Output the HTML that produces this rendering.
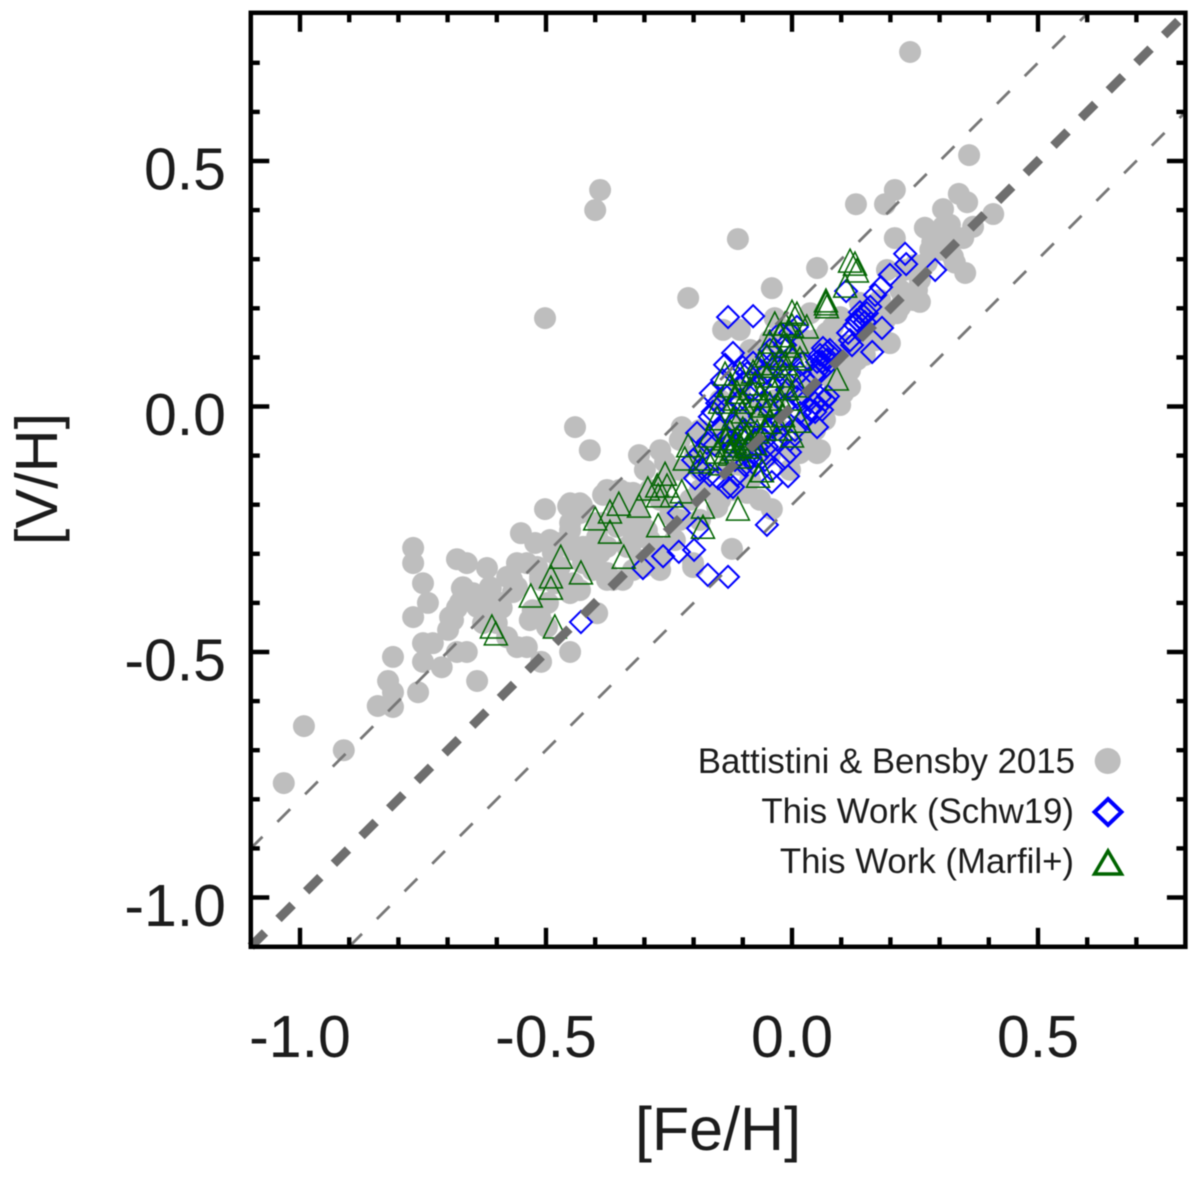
<!DOCTYPE html>
<html>
<head>
<meta charset="utf-8">
<title>[V/H] vs [Fe/H]</title>
<style>
html,body{margin:0;padding:0;background:#fff;width:1200px;height:1183px;overflow:hidden}
svg{display:block;filter:blur(.5px)}
text{font-family:"Liberation Sans",Arial,sans-serif;fill:#1c1c1c}
</style>
</head>
<body>
<svg id="chart" width="1200" height="1183" viewBox="0 0 1200 1183" xmlns="http://www.w3.org/2000/svg">
  <g id="marks-gray"></g>
  <g id="marks-blue"></g>
  <g id="marks-green"></g>
  <g id="ref-lines"></g>
  <g id="axes"></g>
  <rect x="250.8" y="12.8" width="934.6" height="934" fill="none" stroke="#000" stroke-width="4.5"></rect>
  <g id="tick-labels" font-size="59"></g>
  <text x="718" y="1150" font-size="61" text-anchor="middle">[Fe/H]</text>
  <text transform="translate(57,479) rotate(-90)" font-size="59.5" text-anchor="middle">[V/H]</text>
  <g font-size="34.8" text-anchor="end">
    <text x="1075" y="773">Battistini &amp; Bensby 2015</text>
    <circle cx="1107.7" cy="761" r="13" fill="#bebebe"></circle>
    <text x="1074" y="823">This Work (Schw19)</text>
    <path d="M1108 799 L1121.5 812 L1108 825 L1094.5 812 Z" fill="none" stroke="#0000ff" stroke-width="4"></path>
    <text x="1074" y="873">This Work (Marfil+)</text>
    <path d="M1108 851 L1121.5 874 L1094.5 874 Z" fill="none" stroke="#006400" stroke-width="3.5"></path>
  </g>
</svg>
<script>
const xMajorTicks = [-1.0, -0.5, 0.0, 0.5];
const yMajorTicks = [0.5, 0.0, -0.5, -1.0];
const xMinorTicks = [-0.9, -0.8, -0.7, -0.6, -0.4, -0.3, -0.2, -0.1, 0.1, 0.2, 0.3, 0.4, 0.6, 0.7];
const yMinorTicks = [0.7, 0.6, 0.4, 0.3, 0.2, 0.1, -0.1, -0.2, -0.3, -0.4, -0.6, -0.7, -0.8, -0.9];
const xTickLabels = ["-1.0", "-0.5", "0.0", "0.5"];
const yTickLabels = ["0.5", "0.0", "-0.5", "-1.0"];
const refOffsets = [0, 0.2, -0.2];
const axisRange = [-1.1, 0.8];

const battistini = [
[-0.992,-0.651],[-0.911,-0.700],[-1.033,-0.767],[-0.770,-0.288],[-0.770,-0.319],[-0.750,-0.360],[-0.740,-0.400],[-0.770,-0.429],
[-0.811,-0.510],[-0.821,-0.559],[-0.811,-0.582],[-0.842,-0.610],[-0.811,-0.612],[-0.760,-0.582],[-0.640,-0.559],[-0.451,-0.500],
[-0.510,-0.520],[-0.750,-0.482],[-0.730,-0.482],[-0.750,-0.520],[-0.712,-0.531],[-0.681,-0.500],[-0.661,-0.500],[-0.699,-0.455],
[-0.689,-0.435],[-0.681,-0.410],[-0.671,-0.370],[-0.669,-0.390],[-0.649,-0.380],[-0.681,-0.311],[-0.661,-0.319],[-0.620,-0.329],
[-0.612,-0.370],[-0.620,-0.388],[-0.618,-0.410],[-0.590,-0.410],[-0.559,-0.319],[-0.539,-0.319],[-0.569,-0.353],[-0.567,-0.378],
[-0.579,-0.470],[-0.559,-0.490],[-0.539,-0.490],[-0.529,-0.429],[-0.498,-0.449],[-0.496,-0.400],[-0.451,-0.374],[-0.431,-0.374],
[-0.482,-0.360],[-0.396,-0.421],[-0.502,-0.209],[-0.551,-0.258],[-0.522,-0.278],[-0.478,-0.278],[-0.455,-0.203],[-0.427,-0.201],
[-0.451,-0.237],[-0.445,-0.286],[-0.384,-0.180],[-0.350,-0.170],[-0.425,-0.319],[-0.405,-0.333],[-0.376,-0.353],[-0.344,-0.353],
[-0.335,-0.286],[-0.376,-0.286],[-0.323,-0.252],[-0.417,-0.286],[-0.472,-0.327],[-0.512,-0.347],[-0.396,-0.237],[-0.356,-0.245],
[-0.315,-0.217],[-0.329,-0.190],[-0.390,0.441],[-0.400,0.400],[-0.502,0.180],[-0.441,-0.042],[-0.411,-0.089],[-0.110,0.341],
[-0.211,0.221],[-0.041,0.241],[0.051,0.282],[0.240,0.722],[0.360,0.512],[-0.140,0.156],[-0.106,0.156],[0.037,0.190],
[-0.311,-0.099],[-0.224,-0.042],[-0.041,-0.209],[-0.122,-0.290],[0.051,-0.095],[0.016,-0.095],[0.118,0.040],[0.063,0.007],
[0.071,0.150],[0.144,0.190],[0.199,0.129],[0.246,0.217],[0.193,0.278],[0.281,0.319],[-0.268,-0.089],[-0.091,-0.176],
[-0.146,-0.190],[-0.201,-0.319],[0.130,0.412],[0.189,0.412],[0.209,0.441],[0.209,0.343],[0.339,0.433],[0.307,0.402],
[0.356,0.416],[0.409,0.392],[0.368,0.366],[0.348,0.343],[0.270,0.364],[0.285,0.335],[0.331,0.293],[0.352,0.272],
[0.260,0.213],[0.254,0.237],[0.220,0.203],[0.213,0.190],[0.179,0.156],[0.138,0.211],[0.132,0.095],[0.083,0.162],
[0.098,0.182],[0.274,0.293],[0.307,0.366],[0.327,0.305],[0.260,0.258],[0.226,0.223],[0.295,0.325],[0.315,0.353],
[-0.289,-0.170],[-0.258,-0.150],[-0.228,-0.129],[-0.197,-0.099],[-0.167,-0.078],[-0.136,-0.048],[-0.096,-0.027],[-0.065,-0.007],
[-0.035,0.013],[-0.004,0.034],[0.026,0.054],[0.047,0.074],[0.077,0.105],[0.108,0.125],[0.138,0.135],[-0.248,-0.221],
[-0.207,-0.190],[-0.177,-0.170],[-0.268,-0.190],[-0.309,-0.231],[-0.289,-0.272],[-0.268,-0.313],[-0.309,-0.313],[-0.238,-0.272],
[-0.187,-0.231],[-0.136,-0.129],[-0.106,-0.119],[-0.065,-0.068],[-0.024,-0.048],[0.016,-0.038],[0.047,-0.048],[-0.096,-0.089],
[-0.045,-0.099],[-0.004,-0.089],[0.037,0.013],[0.067,-0.027],[0.087,0.044],[-0.146,0.013],[-0.106,0.034],[-0.065,0.074],
[-0.024,0.095],[-0.045,0.135],[-0.004,0.156],[0.026,0.135],[-0.085,0.115],[0.098,0.060],[0.104,0.027],[0.057,-0.089],
[-0.451,-0.197],[-0.431,-0.197],[-0.669,-0.368],[-0.614,-0.368],[-0.579,-0.347],[-0.594,-0.400],[-0.559,-0.368],[-0.518,-0.327],
[-0.486,-0.298],[-0.492,-0.272],[-0.451,-0.252],[-0.445,-0.292],[-0.431,-0.217],[-0.445,-0.360],[-0.451,-0.380],[-0.512,-0.353],
[-0.527,-0.415],[-0.512,-0.429],[-0.533,-0.435],[-0.396,-0.266],[-0.384,-0.237],[-0.390,-0.298],[-0.376,-0.339],[-0.364,-0.353],
[-0.405,-0.327],[-0.425,-0.286],[-0.323,-0.333],[-0.329,-0.286],[-0.309,-0.266],[-0.335,-0.237],[-0.376,-0.170],[-0.335,-0.176],
[-0.315,-0.184],[-0.356,-0.205],[-0.675,-0.400],[-0.695,-0.429],[-0.640,-0.408],[-0.628,-0.400],[-0.628,-0.441],[-0.600,-0.441],
[-0.323,-0.176],[-0.323,-0.225],[-0.295,-0.252],[-0.323,-0.272],[-0.274,-0.286],[-0.303,-0.327],[-0.268,-0.333],[-0.201,-0.327],
[-0.228,-0.231],[-0.152,-0.205],[-0.120,-0.170],[-0.065,-0.190],[-0.187,-0.170],[-0.228,-0.068],[-0.258,-0.113],[-0.299,-0.129],
[-0.187,-0.048],[-0.187,-0.129],[-0.126,-0.109],[-0.085,-0.150],[-0.004,-0.129],[0.026,-0.068],[0.098,0.003],[0.118,0.074],
[0.148,0.105],[0.169,0.135],[0.159,0.176],[0.189,0.176],[0.220,0.237],[0.179,0.217],[0.250,0.288],[0.228,0.278],
[0.301,0.319],[0.321,0.370],[0.016,0.115],[0.047,0.135],[0.087,0.095],[0.057,0.064],[-0.035,0.180]
];

const schw19 = [
[-0.130,0.182],[-0.079,0.184],[0.110,0.235],[0.230,0.311],[0.232,0.290],[0.291,0.278],[0.199,0.268],[0.181,0.243],
[0.169,0.227],[0.183,0.160],[0.163,0.111],[0.122,0.125],[0.132,0.176],[0.144,0.186],[0.138,0.180],[0.152,0.190],
[0.159,0.203],[0.114,0.150],[0.077,0.115],[0.067,0.105],[0.061,0.091],[0.053,0.074],[0.071,0.095],[0.051,-0.042],
[0.057,0.019],[0.067,0.013],[0.037,-0.007],[0.047,0.007],[-0.120,0.109],[-0.136,0.085],[-0.142,0.054],[-0.165,0.027],
[-0.161,-0.011],[-0.193,-0.054],[-0.201,-0.109],[-0.197,-0.146],[-0.100,0.080],[-0.079,0.089],[-0.051,0.101],[-0.024,0.150],
[-0.004,0.150],[0.010,0.162],[-0.120,-0.164],[-0.130,-0.164],[-0.112,-0.140],[-0.150,-0.146],[-0.041,-0.129],[-0.041,-0.154],
[-0.008,-0.142],[-0.004,-0.093],[-0.014,-0.103],[-0.230,-0.217],[-0.191,-0.248],[-0.051,-0.241],[-0.199,-0.292],[-0.230,-0.296],
[-0.262,-0.305],[-0.303,-0.329],[-0.171,-0.343],[-0.130,-0.347],[-0.429,-0.439],[-0.085,-0.103],[-0.071,-0.103],[-0.100,-0.089],
[-0.120,-0.082],[-0.132,-0.062],[-0.106,-0.062],[-0.039,-0.042],[-0.051,-0.048],[-0.024,-0.027],[-0.065,-0.021],[0.016,-0.013],
[0.010,0.019],[-0.010,0.034],[-0.039,0.040],[-0.051,0.068],[-0.024,0.074],[0.016,0.068],[-0.079,0.034],[-0.100,0.048],
[-0.091,0.068],[-0.120,0.068],[-0.039,0.089],[-0.004,0.101],[0.022,0.089],[-0.146,-0.048],[-0.173,-0.074],[-0.187,-0.095],
[-0.167,-0.021],[-0.152,0.007],[0.030,-0.021],[0.022,0.007],[-0.071,-0.082],[-0.051,-0.082],[-0.030,-0.068],
[0.063,0.119],[0.073,0.111],[0.057,0.105],[0.051,0.091],[0.069,0.082],[0.057,0.070],[0.045,0.064],[0.138,0.192],
[0.128,0.166],[0.148,0.172],[0.061,-0.007],[0.047,-0.011],[0.073,0.021],[0.118,0.135],
[-0.116,-0.038],[-0.096,-0.048],[-0.075,-0.068],[-0.055,-0.068],[-0.045,-0.007],[-0.014,0.003],[-0.085,0.003],[-0.065,0.044],
[-0.106,0.013],[-0.136,-0.007],[-0.136,0.023],[-0.045,0.115],[-0.014,0.125],[-0.004,0.064],[0.037,0.044],[0.006,-0.048],
[-0.004,-0.068],[-0.116,-0.109],[-0.096,-0.119],[-0.075,-0.119],[-0.055,-0.109],[-0.157,-0.078],[-0.187,-0.129],[-0.167,-0.140]
];

const marfil = [
[0.128,0.288],[0.118,0.294],[0.132,0.274],[0.108,0.243],[0.069,0.207],[0.071,0.201],[0.069,0.213],[0,0.190],
[0.010,0.186],[0.030,0.160],[0,0.162],[-0.024,0.142],[0.010,0.129],[-0.010,0.121],[-0.045,0.129],[0.002,0.101],
[-0.024,0.095],[-0.051,0.101],[0.091,0.054],[-0.110,-0.211],[-0.181,-0.207],[-0.181,-0.248],[0,-0.062],[0.016,-0.032],
[-0.069,-0.144],[-0.061,-0.133],[-0.311,-0.205],[-0.352,-0.201],[-0.370,-0.217],[-0.272,-0.245],[-0.370,-0.258],[-0.342,-0.309],
[-0.293,-0.170],[-0.272,-0.184],[-0.258,-0.140],[-0.254,-0.164],[-0.274,-0.164],[-0.244,-0.184],[-0.224,-0.176],[-0.211,-0.082],
[-0.218,-0.109],[-0.187,-0.115],[-0.173,-0.109],[-0.152,-0.095],[-0.120,-0.027],[-0.100,-0.013],[-0.065,0.019],[-0.039,0.034],
[-0.085,0.034],[-0.112,0.027],[-0.126,0.040],[-0.146,0.007],[-0.152,-0.027],[-0.167,-0.062],[-0.112,-0.068],[-0.091,-0.062],
[-0.071,-0.054],[-0.045,-0.034],[-0.018,-0.021],[-0.004,0.013],[0.010,0.040],[-0.018,0.060],[-0.051,0.060],[-0.079,0.068],
[-0.039,0.080],[-0.100,-0.048],[-0.126,-0.054],[-0.106,-0.082],[-0.091,-0.085],[-0.120,-0.089],[-0.132,-0.082],[-0.024,-0.048],
[-0.059,-0.001],[-0.100,0.007],[-0.071,-0.021],[-0.030,-0.001],[-0.010,0.034],[-0.470,-0.309],[-0.490,-0.349],[-0.490,-0.372],
[-0.531,-0.388],[-0.429,-0.341],[-0.400,-0.231],[-0.482,-0.451],[-0.610,-0.451],[-0.602,-0.465],
[-0.136,-0.068],[-0.116,-0.074],[-0.096,-0.068],[-0.075,-0.078],[-0.126,-0.099],[-0.106,-0.105],[-0.085,-0.078],[-0.055,-0.048],
[-0.045,0.003],[-0.075,0.044],[-0.106,0.064],[-0.065,0.085],[-0.014,0.085],[-0.024,0.013],[0.016,0.095],[-0.035,0.166],
[-0.014,0.166],[-0.146,-0.119],[-0.116,0.013],[-0.136,0.064]
];

const NS = 'http://www.w3.org/2000/svg';
function xScale(v) { return 792 + v * 492; }
function yScale(v) { return 406.5 - v * 491; }

const grayG = document.getElementById('marks-gray');
battistini.forEach(function (d) {
  const c = document.createElementNS(NS, 'circle');
  
  
  c.setAttribute('cx', xScale(d[0]));
  c.setAttribute('cy', yScale(d[1]));
  c.setAttribute('r', 11);
  c.setAttribute('fill', '#bebebe');
  grayG.appendChild(c);
});

const blueG = document.getElementById('marks-blue');
schw19.forEach(function (d) {
  const x = xScale(d[0]), y = yScale(d[1]), s = 11;
  const p = document.createElementNS(NS, 'path');
  
  
  p.setAttribute('d', 'M' + x + ' ' + (y - s) + 'L' + (x + s) + ' ' + y + 'L' + x + ' ' + (y + s) + 'L' + (x - s) + ' ' + y + 'Z');
  p.setAttribute('fill', 'none');
  p.setAttribute('stroke', '#0000ff');
  p.setAttribute('stroke-width', '2');
  blueG.appendChild(p);
});

const greenG = document.getElementById('marks-green');
marfil.forEach(function (d) {
  const x = xScale(d[0]), y = yScale(d[1]);
  const p = document.createElementNS(NS, 'path');
  
  
  p.setAttribute('d', 'M' + x + ' ' + (y - 13) + 'L' + (x + 11.5) + ' ' + (y + 10) + 'L' + (x - 11.5) + ' ' + (y + 10) + 'Z');
  p.setAttribute('fill', 'none');
  p.setAttribute('stroke', '#006400');
  p.setAttribute('stroke-width', '1.5');
  greenG.appendChild(p);
});

const refG = document.getElementById('ref-lines');
refOffsets.forEach(function (off) {
  const x0 = Math.max(axisRange[0], axisRange[0] - off);
  const x1 = Math.min(axisRange[1], axisRange[1] - off);
  const l = document.createElementNS(NS, 'line');
  
  
  l.setAttribute('x1', xScale(x0));
  l.setAttribute('y1', yScale(x0 + off));
  l.setAttribute('x2', xScale(x1));
  l.setAttribute('y2', yScale(x1 + off));
  l.setAttribute('stroke', off === 0 ? '#6e6e6e' : '#777777');
  l.setAttribute('stroke-width', off === 0 ? 9 : 2.8);
  l.setAttribute('stroke-dasharray', off === 0 ? '20 19.1' : '18 21.1');
  l.setAttribute('stroke-dashoffset', off > 0 ? 1.5 : 0);
  refG.appendChild(l);
});

const axesG = document.getElementById('axes');
function tick(x1, y1, x2, y2) {
  const t = document.createElementNS(NS, 'line');
  
  
  t.setAttribute('x1', x1);
  t.setAttribute('y1', y1);
  t.setAttribute('x2', x2);
  t.setAttribute('y2', y2);
  t.setAttribute('stroke', '#000');
  t.setAttribute('stroke-width', 4.4);
  axesG.appendChild(t);
}
function xTicks(list, len) {
  list.forEach(function (v) {
    tick(xScale(v), 12.8, xScale(v), 12.8 + len);
    tick(xScale(v), 946.8, xScale(v), 946.8 - len);
  });
}
function yTicks(list, len) {
  list.forEach(function (v) {
    tick(250.8, yScale(v), 250.8 + len, yScale(v));
    tick(1185.4, yScale(v), 1185.4 - len, yScale(v));
  });
}
xTicks(xMajorTicks, 19);
xTicks(xMinorTicks, 9.5);
yTicks(yMajorTicks, 18.5);
yTicks(yMinorTicks, 9);

const labelG = document.getElementById('tick-labels');
xMajorTicks.forEach(function (v, i) {
  const t = document.createElementNS(NS, 'text');
  
  
  t.setAttribute('x', xScale(v));
  t.setAttribute('y', 1057);
  t.setAttribute('text-anchor', 'middle');
  t.textContent = xTickLabels[i];
  labelG.appendChild(t);
});
yMajorTicks.forEach(function (v, i) {
  const t = document.createElementNS(NS, 'text');
  
  
  t.setAttribute('x', 226);
  t.setAttribute('y', yScale(v) + 28.5);
  t.setAttribute('text-anchor', 'end');
  t.textContent = yTickLabels[i];
  labelG.appendChild(t);
});
</script>
</body>
</html>
